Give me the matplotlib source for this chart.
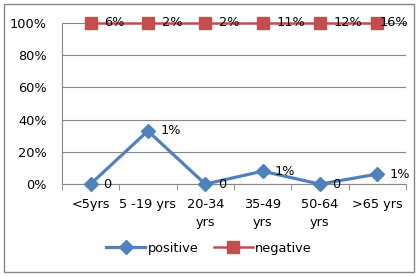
import matplotlib.pyplot as plt
from matplotlib.patches import Rectangle

categories = ['<5yrs', '5 -19 yrs', '20-34\nyrs', '35-49\nyrs', '50-64\nyrs', '>65 yrs']
positive = [0.0, 0.33, 0.0, 0.08, 0.0, 0.062]
negative = [1.0, 1.0, 1.0, 1.0, 1.0, 1.0]
positive_labels = ['0', '1%', '0', '1%', '0', '1%']
negative_labels = ['6%', '2%', '2%', '11%', '12%', '16%']

plt.rcParams['font.family'] = ['DejaVu Sans']
fig = plt.figure(figsize=(4.18, 2.76), dpi=100)
ax = fig.add_axes([0.148, 0.333, 0.823, 0.584])

# outer chart border
fig.patches.append(Rectangle((4 / 418, 4 / 276), 410 / 418, 268 / 276, transform=fig.transFigure,
                             fill=False, edgecolor='#868686', linewidth=1))

x = list(range(len(categories)))
ax.plot(x, positive, color='#4F81BD', linewidth=2.3, marker='D', markersize=7, label='positive', clip_on=False, zorder=3)
ax.plot(x, negative, color='#C0504D', linewidth=1.8, marker='s', markersize=9, label='negative', clip_on=False, zorder=3)

fs = 9.3
for xi, v, t in zip(x, positive, positive_labels):
    ax.annotate(t, (xi, v), xytext=(9, 0), textcoords='offset points', ha='left', va='center', fontsize=fs)
for i, (xi, v, t) in enumerate(zip(x, negative, negative_labels)):
    # last label pushed back so it stays inside the chart
    dx = 1.5 if i == len(x) - 1 else 10
    ax.annotate(t, (xi, v), xytext=(dx, 0), textcoords='offset points', ha='left', va='center', fontsize=fs, zorder=4)

ax.set_xlim(-0.5, len(categories) - 0.5)
ax.set_ylim(0, 1)
ax.set_yticks([0, 0.2, 0.4, 0.6, 0.8, 1.0])
ax.set_yticklabels(['0%', '20%', '40%', '60%', '80%', '100%'], fontsize=fs)
ax.set_xticks(x)
ax.set_xticklabels(categories, fontsize=fs, linespacing=1.5)
ax.set_xticks([i - 0.5 for i in range(len(categories) + 1)], minor=True)
ax.tick_params(axis='x', which='major', length=0, pad=10)
ax.tick_params(axis='x', which='minor', length=4, color='#868686')
ax.tick_params(axis='y', length=0, pad=11)
ax.yaxis.grid(True, color='#868686', linewidth=0.8)
ax.set_axisbelow(True)
for s in ['top', 'right']:
    ax.spines[s].set_visible(False)
for s in ['left', 'bottom']:
    ax.spines[s].set_color('#868686')
    ax.spines[s].set_linewidth(0.8)

fig.legend(loc='center', bbox_to_anchor=(0.5, 0.1), ncol=2, frameon=False, fontsize=fs,
           handlelength=3, columnspacing=1.2, handletextpad=0.2)

fig.savefig('out.png', dpi=100)
